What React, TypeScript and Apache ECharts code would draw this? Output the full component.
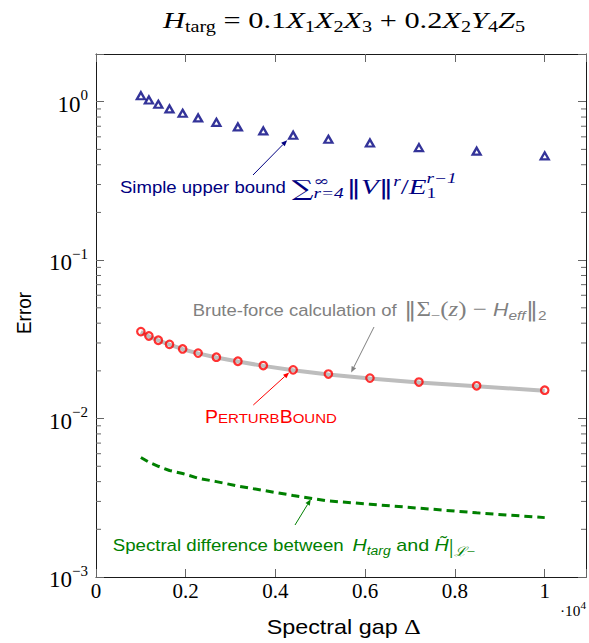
import React, { useEffect, useRef } from 'react';
import * as echarts from 'echarts';

// ---- data (Δ values and errors) ----
const deltas = [1000, 1179, 1389, 1638, 1931, 2276, 2683, 3162, 3728, 4394, 5179, 6105, 7197, 8483, 10000];
const upperBound = [1.09, 1.025, 0.963, 0.9, 0.845, 0.79, 0.741, 0.693, 0.654, 0.614, 0.579, 0.549, 0.513, 0.487, 0.455];
const perturbBound = [0.0354, 0.0332, 0.0312, 0.0294, 0.0275, 0.0259, 0.0244, 0.023, 0.0216, 0.0203, 0.0191, 0.018, 0.017, 0.0161, 0.0151];
const bruteForce = [0.0352, 0.033, 0.0311, 0.0293, 0.0274, 0.0258, 0.0243, 0.0229, 0.0215, 0.0202, 0.019, 0.0179, 0.0169, 0.016, 0.015];
const spectralDiff = [0.00568, 0.0053, 0.005, 0.0047, 0.0045, 0.0042, 0.004, 0.00375, 0.00352, 0.00327, 0.00302, 0.00288, 0.00272, 0.00254, 0.00237];
const xTickValues = [0, 2000, 4000, 6000, 8000, 10000];
const xTickLabels = ['0', '0.2', '0.4', '0.6', '0.8', '1'];
const yDecades = [0.001, 0.01, 0.1, 1];
const yDecadeExp = ['−3', '−2', '−1', '0'];
const minorMultipliers = [2, 3, 4, 5, 6, 7, 8, 9];

const X_MIN = 0;
const X_MAX = 10920;
const Y_MIN = 0.001;
const Y_MAX = 2;

const SANS = 'Liberation Sans';
const SERIF = 'Liberation Serif';
const SYM = 'DejaVu Serif';

const NAVY = '#000080';
const RED = '#ff0000';
const GREEN = '#008000';
const GRAYTXT = '#808080';

type Seg = { t: string; s: number; f?: string; i?: boolean; dy?: number; hold?: boolean };

let measureCtx: CanvasRenderingContext2D | null = null;
function segWidth(g: Seg): number {
  if (!measureCtx) measureCtx = document.createElement('canvas').getContext('2d');
  const ctx = measureCtx as CanvasRenderingContext2D;
  ctx.font = `${g.i ? 'italic ' : ''}${g.s}px "${g.f || SANS}"`;
  return ctx.measureText(g.t).width;
}

function textBlock(
  segs: Seg[],
  o: { x: number; y: number; w?: number; align?: 'left' | 'center'; color: string; sy?: number; rot?: number }
) {
  let cx = 0;
  let held = 0;
  const kids: any[] = [];
  for (const g of segs) {
    const w = segWidth(g);
    kids.push({
      type: 'text',
      x: cx,
      y: (g.dy || 0) - 0.34 * g.s,
      silent: true,
      style: {
        text: g.t,
        fontSize: g.s,
        fontFamily: g.f || SANS,
        fontStyle: g.i ? 'italic' : 'normal',
        fontWeight: 'normal',
        fill: o.color,
        align: 'left',
        verticalAlign: 'middle',
      },
    });
    if (g.hold) held = Math.max(held, w);
    else {
      cx += Math.max(w, held);
      held = 0;
    }
  }
  const off = o.align === 'center' ? -cx / 2 : 0;
  kids.forEach((k) => {
    k.x += off;
  });
  return {
    type: 'group',
    x: o.x,
    y: o.y,
    scaleX: o.w ? o.w / cx : 1,
    scaleY: o.sy || 1,
    rotation: o.rot || 0,
    silent: true,
    children: kids,
  };
}

function arrow(tail: number[], tip: number[], color: string) {
  const dx = tip[0] - tail[0];
  const dy = tip[1] - tail[1];
  const L = Math.hypot(dx, dy);
  const ux = dx / L;
  const uy = dy / L;
  const hl = 6;
  const hw = 2.5;
  const bx = tip[0] - ux * hl;
  const by = tip[1] - uy * hl;
  return [
    { type: 'line', silent: true, shape: { x1: tail[0], y1: tail[1], x2: bx, y2: by }, style: { stroke: color, lineWidth: 1 } },
    {
      type: 'polygon',
      silent: true,
      shape: { points: [tip, [bx - uy * hw, by + ux * hw], [bx + uy * hw, by - ux * hw]] },
      style: { fill: color },
    },
  ];
}

const axisLineStyle = { color: '#1a1a1a', width: 1 };
const tickStyle = { color: '#666666', width: 1 };

function yLabel(v: number): string {
  const idx = yDecades.findIndex((d) => Math.abs(v / d - 1) < 1e-6);
  if (idx < 0) return '';
  return `{b|10}{s|${yDecadeExp[idx]}}`;
}

function xLabel(v: number): string {
  const idx = xTickValues.indexOf(v);
  return idx < 0 ? '' : xTickLabels[idx];
}

const minorTicks: number[] = [];
yDecades.forEach((d) => minorMultipliers.forEach((m) => {
  const v = d * m;
  if (v < Y_MAX * 0.999) minorTicks.push(v);
}));

export default function App() {
  const ref = useRef<HTMLDivElement>(null);
  useEffect(() => {
    if (!ref.current) return;
    const chart = echarts.init(ref.current, null, { renderer: 'svg' });
    const xBase = {
      type: 'value' as const,
      min: X_MIN,
      max: X_MAX,
      interval: 2000,
      splitLine: { show: false },
      axisLine: { show: true, onZero: false, lineStyle: axisLineStyle },
      axisTick: { show: true, inside: true, length: 8, lineStyle: tickStyle },
    };
    const yBase = {
      type: 'log' as const,
      logBase: 10,
      min: Y_MIN,
      max: Y_MAX,
      splitLine: { show: false },
      minorTick: { show: false },
      axisLine: { show: true, onZero: false, lineStyle: axisLineStyle },
      axisTick: { show: true, inside: true, length: 8, lineStyle: tickStyle },
    };
    chart.setOption({
      animation: false,
      grid: { left: 96, right: 2, top: 54, bottom: 66, containLabel: false },
      xAxis: [
        {
          ...xBase,
          position: 'bottom',
          axisLabel: { show: true, margin: 3, fontFamily: SERIF, fontSize: 21, color: '#000', formatter: xLabel },
        },
        { ...xBase, position: 'top', axisLabel: { show: false } },
      ],
      yAxis: [
        {
          ...yBase,
          position: 'left',
          axisLabel: {
            show: true,
            margin: 8,
            formatter: yLabel,
            rich: {
              b: { fontFamily: SERIF, fontSize: 23, lineHeight: 28, verticalAlign: 'bottom', color: '#000' },
              s: { fontFamily: SERIF, fontSize: 15, lineHeight: 14, verticalAlign: 'top', color: '#000' },
            },
          },
        },
        { ...yBase, position: 'right', axisLabel: { show: false } },
      ],
      series: [
        {
          name: 'minor ticks',
          type: 'custom',
          xAxisIndex: 0,
          yAxisIndex: 0,
          silent: true,
          clip: false,
          data: minorTicks.map((v) => [0, v]),
          renderItem: (params: any, api: any) => {
            const y = api.coord([0, api.value(1)])[1];
            const cs = params.coordSys;
            return {
              type: 'group',
              children: [
                { type: 'line', shape: { x1: cs.x, y1: y, x2: cs.x + 5, y2: y }, style: { stroke: '#666666', lineWidth: 1 } },
                {
                  type: 'line',
                  shape: { x1: cs.x + cs.width - 5, y1: y, x2: cs.x + cs.width, y2: y },
                  style: { stroke: '#666666', lineWidth: 1 },
                },
              ],
            };
          },
        },
        {
          name: 'Brute-force',
          type: 'line',
          xAxisIndex: 0,
          yAxisIndex: 0,
          data: deltas.map((d, i) => [d, bruteForce[i]]),
          showSymbol: false,
          symbol: 'none',
          lineStyle: { color: '#bdbdbd', width: 4 },
          z: 2,
        },
        {
          name: 'Spectral difference',
          type: 'line',
          xAxisIndex: 0,
          yAxisIndex: 0,
          data: deltas.map((d, i) => [d, spectralDiff[i]]),
          showSymbol: false,
          symbol: 'none',
          lineStyle: { color: GREEN, width: 3, type: [8, 5] },
          z: 2,
        },
        {
          name: 'PerturbBound',
          type: 'scatter',
          xAxisIndex: 0,
          yAxisIndex: 0,
          data: deltas.map((d, i) => [d, perturbBound[i]]),
          symbol: 'circle',
          symbolSize: 7.5,
          itemStyle: { color: 'rgba(0,0,0,0)', borderColor: RED, borderWidth: 2.2 },
          z: 3,
        },
        {
          name: 'Simple upper bound',
          type: 'scatter',
          xAxisIndex: 0,
          yAxisIndex: 0,
          data: deltas.map((d, i) => [d, upperBound[i]]),
          symbol: 'triangle',
          symbolSize: [8, 7],
          itemStyle: { color: 'rgba(0,0,0,0)', borderColor: NAVY, borderWidth: 2.3 },
          z: 3,
        },
      ],
    });

    const px = (x: number, y: number): number[] => chart.convertToPixel({ seriesIndex: 3 }, [x, y]) as number[];
    const mid = (a: number[], b: number[]) => [(a[0] + b[0]) / 2, (a[1] + b[1]) / 2];

    const a1 = px(deltas[9], upperBound[9]);
    const a2 = mid(px(deltas[10], bruteForce[10]), px(deltas[11], bruteForce[11]));
    const a3 = px(deltas[9], perturbBound[9]);
    const a4 = mid(px(deltas[9], spectralDiff[9]), px(deltas[10], spectralDiff[10]));

    const graphics: any[] = [
      // title
      textBlock(
        [
          { t: 'H', s: 24, f: SERIF, i: true },
          { t: 'targ', s: 16, f: SERIF, dy: 4 },
          { t: ' = 0.1', s: 24, f: SERIF },
          { t: 'X', s: 24, f: SERIF, i: true },
          { t: '1', s: 16, f: SERIF, dy: 4 },
          { t: 'X', s: 24, f: SERIF, i: true },
          { t: '2', s: 16, f: SERIF, dy: 4 },
          { t: 'X', s: 24, f: SERIF, i: true },
          { t: '3', s: 16, f: SERIF, dy: 4 },
          { t: ' + 0.2', s: 24, f: SERIF },
          { t: 'X', s: 24, f: SERIF, i: true },
          { t: '2', s: 16, f: SERIF, dy: 4 },
          { t: 'Y', s: 24, f: SERIF, i: true },
          { t: '4', s: 16, f: SERIF, dy: 4 },
          { t: 'Z', s: 24, f: SERIF, i: true },
          { t: '5', s: 16, f: SERIF, dy: 4 },
        ],
        { x: 344, y: 28, w: 362, align: 'center', color: '#000' }
      ),
      // axis names
      textBlock([{ t: 'Spectral gap ', s: 20 }, { t: 'Δ', s: 22, f: SERIF }], { x: 266.7, y: 634, w: 154, color: '#000' }),
      textBlock([{ t: '·10', s: 15, f: SERIF }, { t: '4', s: 11, f: SERIF, dy: -7 }], { x: 560, y: 616, w: 26, color: '#000' }),
      textBlock([{ t: 'Error', s: 19.5 }], { x: 31.5, y: 313, w: 42, align: 'center', color: '#000', rot: Math.PI / 2 }),
      // annotation 1
      textBlock([{ t: 'Simple upper bound', s: 17 }], { x: 120, y: 193.3, w: 166, color: NAVY }),
      textBlock(
        [
          { t: '∑', s: 22, f: SYM, dy: 2 },
          { t: 'r=4', s: 14, f: SERIF, i: true, dy: 5, hold: true },
          { t: '∞', s: 14, f: SYM, dy: -8 },
          { t: ' ', s: 8, f: SERIF },
          { t: '‖', s: 21, f: SYM },
          { t: 'V', s: 21, f: SERIF, i: true },
          { t: '‖', s: 21, f: SYM },
          { t: 'r', s: 14, f: SERIF, i: true, dy: -7 },
          { t: '/', s: 21, f: SERIF },
          { t: 'E', s: 21, f: SERIF, i: true },
          { t: '1', s: 14, f: SERIF, dy: 5, hold: true },
          { t: 'r−1', s: 14, f: SERIF, i: true, dy: -10 },
        ],
        { x: 291.7, y: 193.3, w: 165, color: NAVY }
      ),
      ...arrow([253, 175], [a1[0] - 6, a1[1] + 5], NAVY),
      // annotation 2
      textBlock([{ t: 'Brute-force calculation of', s: 17 }], { x: 192.7, y: 315.7, w: 204, color: GRAYTXT }),
      textBlock(
        [
          { t: '‖', s: 21, f: SYM },
          { t: 'Σ', s: 21, f: SERIF },
          { t: '−', s: 14, f: SERIF, dy: 4 },
          { t: '(', s: 21, f: SERIF },
          { t: 'z', s: 21, f: SERIF, i: true },
          { t: ')', s: 21, f: SERIF },
          { t: ' − ', s: 21, f: SERIF },
          { t: 'H', s: 18, i: true },
          { t: 'eff', s: 13, i: true, dy: 4 },
          { t: '‖', s: 21, f: SYM },
          { t: '2', s: 13, dy: 4 },
        ],
        { x: 404, y: 315.7, w: 142.7, color: GRAYTXT }
      ),
      ...arrow([374, 327], [a2[0] + 2, a2[1] - 4], GRAYTXT),
      // annotation 3
      textBlock(
        [
          { t: 'P', s: 17.5 },
          { t: 'ERTURB', s: 13.5 },
          { t: 'B', s: 17.5 },
          { t: 'OUND', s: 13.5 },
        ],
        { x: 205, y: 423, w: 132, color: RED }
      ),
      ...arrow([253.3, 405], [a3[0] - 4, a3[1] + 2.6], RED),
      // annotation 4
      textBlock([{ t: 'Spectral difference between', s: 17 }], { x: 112.7, y: 551, w: 231, color: GREEN }),
      textBlock(
        [
          { t: 'H', s: 17, i: true },
          { t: 'targ', s: 12, i: true, dy: 4 },
          { t: ' and ', s: 17 },
          { t: 'H\u0303', s: 17, i: true },
          { t: '|', s: 21, f: SERIF, dy: 2 },
          { t: 'ℒ', s: 13, f: SYM, i: true, dy: 5 },
          { t: '−', s: 13, f: SERIF, dy: 5 },
        ],
        { x: 352.5, y: 551, w: 122.5, color: GREEN }
      ),
      ...arrow([295, 525], [a4[0], a4[1] + 1], GREEN),
    ];
    chart.setOption({ graphic: graphics });
    return () => chart.dispose();
  }, []);
  return <div ref={ref} style={{ position: 'fixed', left: 0, top: 0, width: 589, height: 643, background: '#fff' }} />;
}
